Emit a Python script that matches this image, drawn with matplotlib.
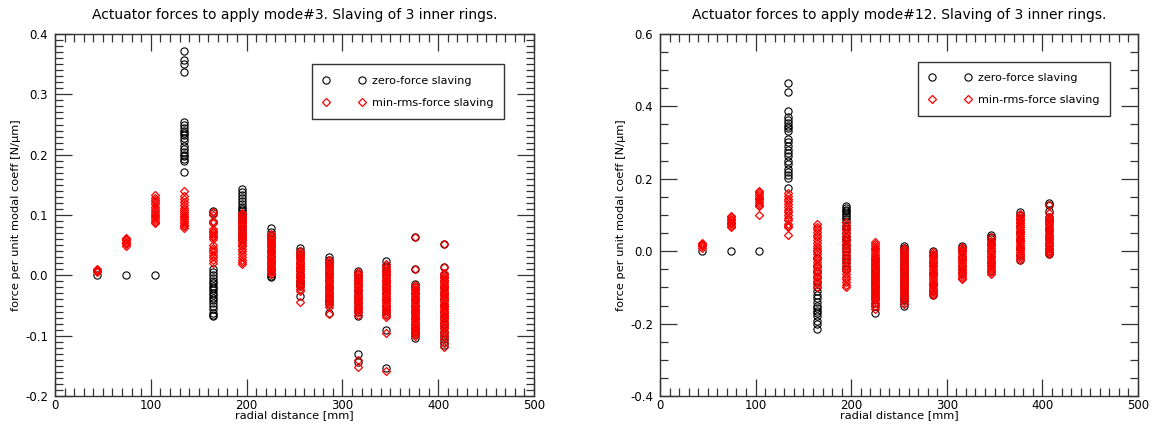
"""
Actuator forces per unit modal coefficient vs radial distance,
zero-force slaving vs min-rms-force slaving, for mode #3 and mode #12.
"""

import matplotlib

matplotlib.use("Agg")
import matplotlib.pyplot as plt
from matplotlib.ticker import MultipleLocator

# Ring radii [mm] (one column of points per ring).
RADII = [43.5, 73.8, 104.0, 134.3, 164.5, 194.8, 225.0, 255.3, 285.5, 315.8, 346.0, 376.3, 406.5]

# ---- mode #3 -----------------------------------------------------------
MODE3_ZERO = [
    [0.0],
    [0.0],
    [0.0],
    [0.372, 0.357, 0.351, 0.337, 0.254, 0.250, 0.245, 0.240, 0.236, 0.232, 0.228, 0.222,
     0.215, 0.210, 0.205, 0.200, 0.197, 0.193, 0.189, 0.171],
    [0.107, 0.104, 0.088, 0.011, 0.006, 0.001, -0.004, -0.009, -0.013, -0.017, -0.021,
     -0.025, -0.029, -0.033, -0.037, -0.041, -0.046, -0.051, -0.056, -0.062, -0.066, -0.068],
    [0.143, 0.138, 0.133, 0.128, 0.123, 0.118, 0.114, 0.110, 0.106, 0.102, 0.098, 0.093,
     0.088, 0.082, 0.075, 0.068, 0.060],
    [0.078, 0.072, 0.066, 0.060, 0.050, 0.040, 0.030, 0.020, 0.010, 0.003, -0.001, -0.003],
    [0.045, 0.040, 0.035, 0.030, 0.020, 0.010, 0.000, -0.010, -0.014, -0.018, -0.034],
    [0.031, 0.026, 0.020, 0.015, 0.008, 0.0, -0.010, -0.020, -0.030, -0.038, -0.043,
     -0.047, -0.062],
    [0.007, 0.002, -0.005, -0.015, -0.025, -0.035, -0.045, -0.052, -0.060, -0.067,
     -0.130, -0.144],
    [0.024, 0.016, 0.008, 0.0, -0.010, -0.020, -0.030, -0.040, -0.050, -0.058, -0.064,
     -0.091, -0.153],
    [0.063, 0.010, -0.014, -0.020, -0.030, -0.040, -0.050, -0.060, -0.070, -0.080,
     -0.088, -0.094, -0.098, -0.104],
    [0.052, 0.014, 0.0, -0.010, -0.020, -0.030, -0.040, -0.050, -0.060, -0.070, -0.080,
     -0.087, -0.095, -0.100, -0.105, -0.110, -0.115],
]
MODE3_RMS = [
    [0.005, 0.007, 0.009, 0.010],
    [0.049, 0.052, 0.054, 0.056, 0.058, 0.060, 0.062],
    [0.086, 0.089, 0.092, 0.095, 0.098, 0.100, 0.103, 0.106, 0.110, 0.113, 0.118, 0.122,
     0.125, 0.128, 0.133],
    [0.139, 0.131, 0.127, 0.121, 0.116, 0.112, 0.108, 0.105, 0.102, 0.099, 0.096, 0.093,
     0.090, 0.087, 0.084, 0.081, 0.078],
    [0.105, 0.100, 0.090, 0.086, 0.076, 0.073, 0.071, 0.068, 0.066, 0.063, 0.061, 0.050,
     0.046, 0.042, 0.038, 0.034, 0.030, 0.026, 0.020],
    [0.104, 0.101, 0.098, 0.095, 0.092, 0.089, 0.087, 0.084, 0.081, 0.078, 0.075, 0.072,
     0.069, 0.066, 0.063, 0.060, 0.057, 0.054, 0.051, 0.048, 0.044, 0.040, 0.036, 0.031,
     0.026, 0.022, 0.018],
    [0.068, 0.065, 0.062, 0.059, 0.056, 0.053, 0.050, 0.047, 0.044, 0.041, 0.038, 0.035,
     0.032, 0.029, 0.026, 0.023, 0.020, 0.017, 0.014, 0.011, 0.008, 0.005, 0.002],
    [0.040, 0.037, 0.034, 0.031, 0.028, 0.025, 0.022, 0.019, 0.016, 0.013, 0.010, 0.007,
     0.004, 0.001, -0.002, -0.005, -0.008, -0.011, -0.014, -0.018, -0.022, -0.026, -0.045],
    [0.025, 0.022, 0.019, 0.016, 0.013, 0.010, 0.007, 0.004, 0.001, -0.002, -0.005,
     -0.008, -0.011, -0.014, -0.017, -0.020, -0.023, -0.026, -0.029, -0.032, -0.035,
     -0.038, -0.041, -0.044, -0.048, -0.052, -0.064],
    [0.005, 0.002, -0.001, -0.004, -0.007, -0.010, -0.013, -0.016, -0.019, -0.022, -0.025,
     -0.028, -0.031, -0.034, -0.037, -0.040, -0.043, -0.046, -0.049, -0.052, -0.055,
     -0.058, -0.061, -0.065, -0.140, -0.152],
    [0.018, 0.014, 0.011, 0.008, 0.005, 0.002, -0.001, -0.004, -0.007, -0.010, -0.013,
     -0.016, -0.019, -0.022, -0.025, -0.028, -0.031, -0.034, -0.037, -0.040, -0.043,
     -0.046, -0.049, -0.052, -0.055, -0.058, -0.061, -0.065, -0.069, -0.095, -0.158],
    [0.063, 0.010, -0.016, -0.019, -0.022, -0.025, -0.028, -0.031, -0.034, -0.037, -0.040,
     -0.043, -0.046, -0.049, -0.052, -0.055, -0.058, -0.061, -0.064, -0.067, -0.070,
     -0.073, -0.076, -0.079, -0.082, -0.085, -0.088, -0.091, -0.094, -0.097, -0.100],
    [0.052, 0.013, 0.004, 0.001, -0.002, -0.005, -0.008, -0.011, -0.014, -0.017, -0.020,
     -0.023, -0.026, -0.029, -0.032, -0.035, -0.038, -0.041, -0.044, -0.047, -0.050,
     -0.053, -0.056, -0.059, -0.062, -0.065, -0.068, -0.071, -0.074, -0.077, -0.080,
     -0.084, -0.088, -0.092, -0.096, -0.100, -0.106, -0.112, -0.118],
]

# ---- mode #12 ----------------------------------------------------------
MODE12_ZERO = [
    [0.0],
    [0.0],
    [0.0],
    [0.465, 0.440, 0.388, 0.370, 0.362, 0.355, 0.347, 0.340, 0.332, 0.311, 0.302, 0.290,
     0.280, 0.270, 0.262, 0.250, 0.240, 0.228, 0.220, 0.210, 0.202, 0.175],
    [0.0, -0.020, -0.040, -0.055, -0.070, -0.085, -0.100, -0.110, -0.120, -0.130, -0.140,
     -0.150, -0.158, -0.165, -0.172, -0.180, -0.192, -0.200, -0.215],
    [0.125, 0.120, 0.115, 0.110, 0.105, 0.100, 0.095, 0.090, 0.080, 0.070, 0.060, 0.050,
     0.040, 0.030, 0.020, 0.010, 0.000, -0.010, -0.020, -0.030, -0.040, -0.048],
    [-0.020, -0.030, -0.040, -0.050, -0.060, -0.070, -0.080, -0.090, -0.100, -0.110,
     -0.120, -0.130, -0.142, -0.150, -0.172],
    [0.015, 0.010, 0.005, 0.0, -0.010, -0.020, -0.030, -0.040, -0.050, -0.060, -0.070,
     -0.080, -0.090, -0.100, -0.110, -0.120, -0.128, -0.136, -0.143, -0.150],
    [0.0, -0.010, -0.030, -0.060, -0.090, -0.110, -0.120],
    [0.013, 0.008, 0.0, -0.020, -0.040, -0.060],
    [0.045, 0.040, 0.035, 0.020, 0.0, -0.030, -0.055],
    [0.108, 0.100, 0.090, 0.070, 0.050, 0.030, 0.010, -0.010, -0.025],
    [0.133, 0.128, 0.110, 0.095, 0.080, 0.060, 0.040, 0.020, 0.000, -0.008],
]
MODE12_RMS = [
    [0.010, 0.013, 0.016, 0.019, 0.022],
    [0.066, 0.070, 0.074, 0.078, 0.082, 0.086, 0.090, 0.094, 0.098],
    [0.100, 0.124, 0.128, 0.133, 0.138, 0.143, 0.148, 0.153, 0.158, 0.163, 0.167],
    [0.160, 0.152, 0.145, 0.138, 0.130, 0.122, 0.115, 0.108, 0.100, 0.092, 0.085, 0.075,
     0.070, 0.066, 0.046],
    [0.075, 0.068, 0.060, 0.052, 0.045, 0.038, 0.030, 0.022, 0.015, 0.008, 0.000, -0.008,
     -0.015, -0.022, -0.030, -0.038, -0.045, -0.052, -0.060, -0.068, -0.075, -0.082,
     -0.090, -0.098],
    [0.080, 0.072, 0.065, 0.058, 0.050, 0.043, 0.035, 0.028, 0.020, 0.013, 0.005, -0.003,
     -0.010, -0.018, -0.025, -0.033, -0.040, -0.048, -0.055, -0.063, -0.070, -0.078,
     -0.085, -0.093, -0.100],
    [0.025, 0.020, 0.015, 0.010, 0.005, 0.000, -0.005, -0.010, -0.015, -0.020, -0.025,
     -0.030, -0.035, -0.040, -0.045, -0.050, -0.055, -0.060, -0.065, -0.070, -0.075,
     -0.080, -0.085, -0.090, -0.095, -0.100, -0.105, -0.110, -0.115, -0.120, -0.125,
     -0.130, -0.136, -0.143, -0.150, -0.160],
    [0.010, 0.005, 0.000, -0.005, -0.010, -0.015, -0.020, -0.025, -0.030, -0.035, -0.040,
     -0.045, -0.050, -0.055, -0.060, -0.065, -0.070, -0.075, -0.080, -0.085, -0.090,
     -0.095, -0.100, -0.105, -0.110, -0.115, -0.120, -0.125, -0.130, -0.137, -0.145],
    [-0.002, -0.007, -0.012, -0.017, -0.022, -0.027, -0.032, -0.037, -0.042, -0.047,
     -0.052, -0.057, -0.062, -0.067, -0.072, -0.077, -0.082, -0.087, -0.092, -0.097,
     -0.102, -0.107, -0.112, -0.117, -0.122],
    [0.012, 0.007, 0.002, -0.003, -0.008, -0.013, -0.018, -0.023, -0.028, -0.033, -0.038,
     -0.043, -0.048, -0.053, -0.058, -0.063, -0.068, -0.073, -0.078],
    [0.040, 0.028, 0.023, 0.018, 0.013, 0.008, 0.003, -0.002, -0.007, -0.012, -0.017,
     -0.022, -0.027, -0.032, -0.037, -0.042, -0.047, -0.052, -0.057, -0.062],
    [0.102, 0.097, 0.092, 0.087, 0.082, 0.077, 0.072, 0.067, 0.062, 0.057, 0.052, 0.047,
     0.042, 0.037, 0.032, 0.027, 0.022, 0.017, 0.012, 0.007, 0.002, -0.003, -0.008,
     -0.013, -0.018, -0.024],
    [0.128, 0.106, 0.095, 0.090, 0.085, 0.080, 0.075, 0.070, 0.065, 0.060, 0.055, 0.050,
     0.045, 0.040, 0.035, 0.030, 0.025, 0.020, 0.015, 0.010, 0.005, 0.000, -0.005, -0.009],
]

# (title, zero-force, min-rms, ylim, y major, y minor, axes x-extent px, legend anchor)
PANELS = [
    ("Actuator forces to apply mode#3. Slaving of 3 inner rings.",
     MODE3_ZERO, MODE3_RMS, (-0.2, 0.4), 0.1, 0.01,
     (55, 479), (0.536, 0.916)),
    ("Actuator forces to apply mode#12. Slaving of 3 inner rings.",
     MODE12_ZERO, MODE12_RMS, (-0.4, 0.6), 0.2, 0.05,
     (660, 478), (0.539, 0.923)),
]

W, H = 1154, 425
AX_BOTTOM, AX_TOP = 396, 34
FRAME = "#333333"


def flatten(groups):
    xs, ys = [], []
    for r, vals in zip(RADII, groups):
        xs.extend([r] * len(vals))
        ys.extend(vals)
    return xs, ys


def main():
    plt.rcParams.update({"font.family": "DejaVu Sans", "font.size": 8.5})
    fig = plt.figure(figsize=(W / 100, H / 100), dpi=100)

    for title, zero, rms, ylim, ymaj, ymin, (left, width), anchor in PANELS:
        ax = fig.add_axes([left / W, (H - AX_BOTTOM) / H, width / W,
                           (AX_BOTTOM - AX_TOP) / H])
        xz, yz = flatten(zero)
        xr, yr = flatten(rms)
        ax.plot(xz, yz, "o", ms=5.2, mfc="none", mec="black", mew=0.8,
                ls="none", label="zero-force slaving")
        ax.plot(xr, yr, "D", ms=4.4, mfc="none", mec="red", mew=0.9,
                ls="none", label="min-rms-force slaving")

        ax.set_xlim(0, 500)
        ax.set_ylim(*ylim)
        ax.xaxis.set_major_locator(MultipleLocator(100))
        ax.xaxis.set_minor_locator(MultipleLocator(10))
        ax.yaxis.set_major_locator(MultipleLocator(ymaj))
        ax.yaxis.set_minor_locator(MultipleLocator(ymin))
        ax.yaxis.set_major_formatter(plt.FormatStrFormatter("%.1f"))
        ax.tick_params(which="both", direction="in", top=True, right=True,
                       color=FRAME, width=0.9, labelsize=8.5)
        ax.tick_params(which="major", length=12.2)
        ax.tick_params(which="minor", length=6.1)
        ax.tick_params(axis="x", pad=2.5)
        ax.tick_params(axis="y", pad=5)
        for spine in ax.spines.values():
            spine.set_edgecolor(FRAME)
            spine.set_linewidth(1.0)

        ax.set_title(title, fontsize=10, pad=11)
        ax.set_xlabel("radial distance [mm]", fontsize=8.2)
        ax.set_ylabel("force per unit modal coeff [N/\u00b5m]", fontsize=8.2)
        ax.xaxis.set_label_coords(0.5, -0.040)
        ax.yaxis.set_label_coords(-0.072, 0.5)

        leg = ax.legend(loc="upper left", bbox_to_anchor=anchor, borderaxespad=0,
                        numpoints=2, handlelength=3.8, handletextpad=0.6,
                        borderpad=1.0, labelspacing=1.1, fontsize=8,
                        fancybox=False, framealpha=1, edgecolor=FRAME)
        leg.get_frame().set_linewidth(1.0)

    fig.savefig("out.png", dpi=100)
    plt.close(fig)


if __name__ == "__main__":
    main()
